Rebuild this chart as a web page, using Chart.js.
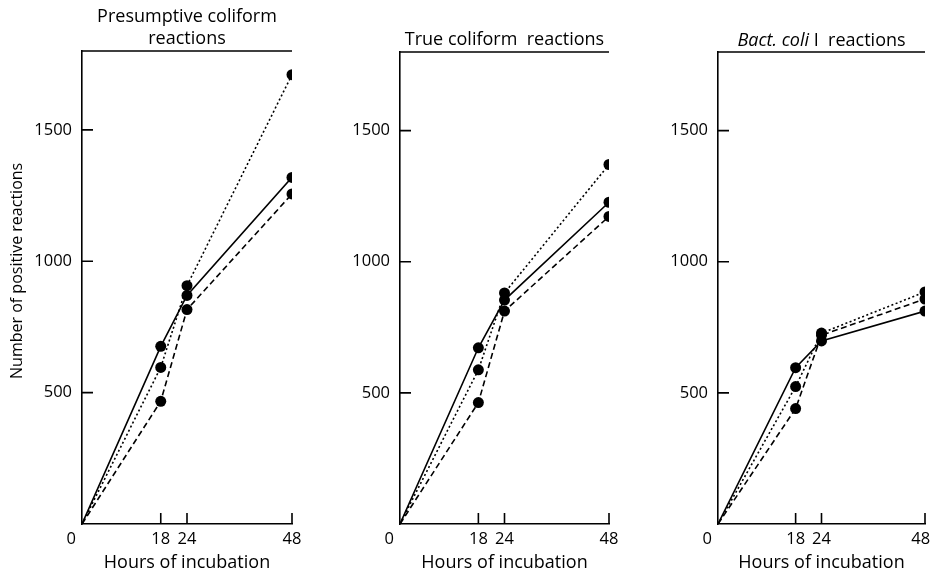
<!DOCTYPE html>
<html>
<head>
<meta charset="utf-8">
<script src="https://cdn.jsdelivr.net/npm/chart.js@4.4.0/dist/chart.umd.min.js"></script>
<style>
  html, body { margin: 0; padding: 0; background: #fff; overflow: hidden; width: 931px; height: 576px; position: relative; }
  canvas { position: absolute; top: 0; }
</style>
</head>
<body>
<canvas id="c1" width="310" height="576" style="left:0px"></canvas>
<canvas id="c2" width="305" height="576" style="left:320px"></canvas>
<canvas id="c3" width="330" height="576" style="left:640px"></canvas>
<script>
// hours of incubation
const hours = [0, 18, 24, 48]
const xTicks = [0, 18, 24, 48]
const yTicks = [500, 1000, 1500]

// presumptive coliform reactions
const presSolid = [0, 676, 870, 1319]
const presDotted = [0, 596, 907, 1710]
const presDashed = [0, 467, 816, 1256]

// true coliform reactions
const trueSolid = [0, 672, 854, 1227]
const trueDotted = [0, 588, 881, 1371]
const trueDashed = [0, 463, 812, 1173]

// Bact. coli I reactions
const coliSolid = [0, 596, 698, 812]
const coliDotted = [0, 524, 728, 885]
const coliDashed = [0, 440, 720, 858]

const ink = '#000'
const fam = '"Open Sans", Lato, sans-serif'
const labelFont = { family: fam, size: 18 }
const tickFont = { family: fam, size: 16.5 }

// title, inward tick marks and top frame line
const frame = {
  id: 'frame',
  afterDraw(chart, args, o) {
    const { ctx, chartArea: a, scales: { x, y } } = chart
    ctx.save()
    ctx.strokeStyle = ink
    ctx.lineWidth = 1.6
    ctx.beginPath()
    ctx.moveTo(a.left, a.top)
    ctx.lineTo(a.right, a.top)
    yTicks.forEach(v => {
      const py = y.getPixelForValue(v)
      ctx.moveTo(a.left, py)
      ctx.lineTo(a.left + 11, py)
    })
    xTicks.slice(1).forEach(v => {
      const px = x.getPixelForValue(v)
      ctx.moveTo(px, a.bottom)
      ctx.lineTo(px, a.bottom - 11)
    })
    ctx.stroke()

    ctx.fillStyle = ink
    ctx.textBaseline = 'middle'
    ctx.textAlign = 'left'
    o.lines.forEach((runs, i) => {
      const fonts = runs.map(r => (r.italic ? 'italic ' : '') + '18px ' + fam)
      let total = 0
      runs.forEach((r, j) => { ctx.font = fonts[j]; total += ctx.measureText(r.text).width })
      let cx = (a.left + a.right) / 2 - total / 2
      runs.forEach((r, j) => {
        ctx.font = fonts[j]
        ctx.fillText(r.text, cx, o.y0 + i * 22)
        cx += ctx.measureText(r.text).width
      })
    })
    ctx.restore()
  }
}

function line(values, dash) {
  return {
    data: hours.map((h, i) => ({ x: h, y: values[i] })),
    borderColor: ink,
    backgroundColor: ink,
    borderWidth: 1.6,
    borderDash: dash,
    pointRadius: c => (c.dataIndex === 0 ? 0 : 5.5),
    pointBorderWidth: 0,
    tension: 0,
  }
}

function makeChart(id, series, cfg) {
  new Chart(document.getElementById(id), {
    type: 'line',
    data: {
      datasets: [
        line(series[2], [6, 3.5]),
        line(series[1], [2, 2.5]),
        line(series[0], []),
      ],
    },
    options: {
      responsive: false,
      animation: false,
      layout: { padding: { top: cfg.top, right: cfg.right, left: 0, bottom: 0 } },
      plugins: {
        legend: { display: false },
        tooltip: { enabled: false },
        frame: { lines: cfg.title, y0: cfg.titleY },
      },
      scales: {
        x: {
          type: 'linear',
          min: 0,
          max: 48,
          afterBuildTicks: s => { s.ticks = xTicks.map(v => ({ value: v })) },
          afterFit: s => { s.height = 52 },
          ticks: {
            autoSkip: false,
            maxRotation: 0,
            padding: 5,
            color: ink,
            font: tickFont,
            callback: v => (v === 0 ? '0' + ' '.repeat(5) : String(v) + (v === 48 ? cfg.pad48 : '')),
          },
          grid: { display: false, drawTicks: false },
          border: { display: true, color: ink, width: 1.6 },
          title: { display: true, text: 'Hours of incubation', color: ink, font: labelFont, padding: { top: 0, bottom: 2 } },
        },
        y: {
          min: 0,
          max: 1800,
          afterBuildTicks: s => { s.ticks = yTicks.map(v => ({ value: v })) },
          afterFit: s => { s.width = cfg.yWidth },
          ticks: { padding: 10, color: ink, font: tickFont, callback: v => String(v) },
          grid: { display: false, drawTicks: false },
          border: { display: true, color: ink, width: 1.6 },
          title: {
            display: cfg.yTitle,
            // leading spaces lift the centred label to where the original sits
            text: ' '.repeat(8) + 'Number of positive reactions',
            color: ink,
            font: { family: fam, size: 16 },
            padding: { top: 8, bottom: 0 },
          },
        },
      },
    },
    plugins: [frame],
  })
}

makeChart('c1', [presSolid, presDotted, presDashed], {
  top: 51, right: 18, yWidth: 82, yTitle: true, pad48: '', titleY: 17,
  title: [[{ text: 'Presumptive coliform' }], [{ text: 'reactions' }]],
})
makeChart('c2', [trueSolid, trueDotted, trueDashed], {
  top: 52, right: 16, yWidth: 80, yTitle: false, pad48: '', titleY: 40,
  title: [[{ text: 'True coliform  reactions' }]],
})
makeChart('c3', [coliSolid, coliDotted, coliDashed], {
  top: 52, right: 45, yWidth: 78, yTitle: false, pad48: '  ', titleY: 41,
  title: [[{ text: 'Bact. coli', italic: true }, { text: ' I  reactions' }]],
})
</script>
</body>
</html>
